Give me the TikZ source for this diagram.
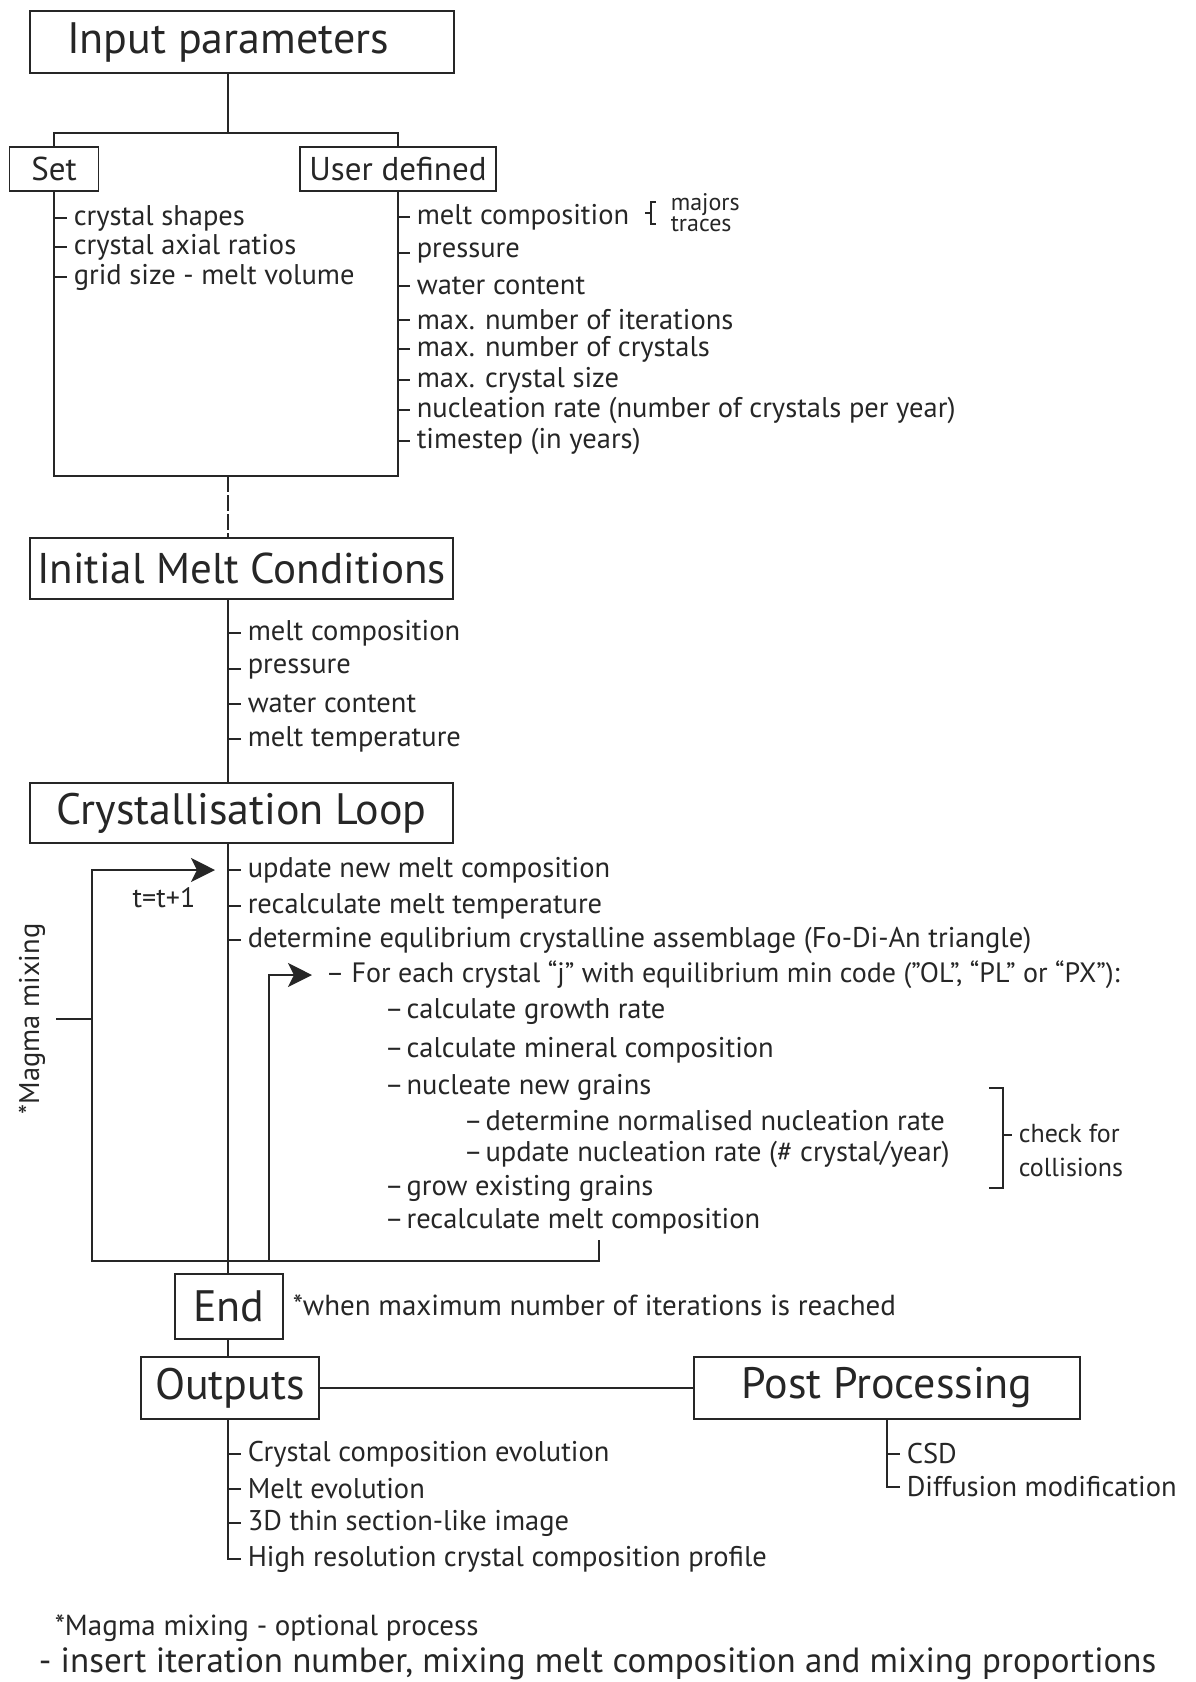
\documentclass[tikz,border=0pt]{standalone}
\usepackage{fontspec}
\setmainfont{PT Sans}
\usetikzlibrary{arrows.meta}

\begin{document}
\begin{tikzpicture}[
    x=1pt, y=-1pt,
    line width=1.6pt,
    draw=black!85, text=black!85,
    every node/.style={font=\fontsize{28.5}{32}\selectfont},
    titlebox/.style={rectangle, draw, line width=1.6pt, inner sep=0pt, font=\fontsize{44}{50}\selectfont},
    smallbox/.style={rectangle, draw, line width=1.6pt, inner sep=0pt, font=\fontsize{33}{38}\selectfont},
    item/.style={anchor=west, inner xsep=6pt, inner ysep=0pt},
    subitem/.style={anchor=west, inner xsep=0pt, inner ysep=0pt},
    dashline/.style={dash pattern=on 16pt off 3pt},
    arrow/.style={-{Stealth[length=24pt, width=24pt, inset=6pt]}}
]
\useasboundingbox (0,0) rectangle (1195,1682);

% Boxes
\node[titlebox, minimum width=424, minimum height=62] (input) at (242,42) {\hspace*{-28pt}Input parameters};
\node[smallbox, minimum width=89, minimum height=44] (set) at (54,169) {Set};
\node[smallbox, minimum width=196, minimum height=44] (user) at (398,169) {User defined};
\node[titlebox, minimum width=423, minimum height=61, font=\fontsize{43}{50}\selectfont] (imc) at (241.5,568.5) {Initial Melt Conditions};
\node[titlebox, minimum width=423, minimum height=60] (loop) at (241.5,813) {Crystallisation Loop};
\node[titlebox, minimum width=108, minimum height=65] (endbox) at (229,1306.5) {End};
\node[titlebox, minimum width=178, minimum height=62] (outputs) at (230,1388) {Outputs};
\node[titlebox, minimum width=386, minimum height=62] (post) at (887,1388) {Post Processing};

% Helper coordinates
\coordinate (spine) at (228,0);
\coordinate (split) at (228,133);
\coordinate (framebot) at (228,476);
\coordinate (outerbot) at (92,1261);
\coordinate (innerbot) at (269,1261);
\coordinate (loopend) at (599,1240);

% Set / user defined parameters
\node[item] (s1) at (67,218) {crystal shapes};
\node[item] (s2) at (67,247) {crystal axial ratios};
\node[item] (s3) at (67,277) {grid size - melt volume};

\node[item] (u1) at (410,217) {melt composition};
\node[item] (u2) at (410,253) {pressure};
\node[item] (u3) at (410,286) {water content};
\node[item] (u4) at (410,320) {max. number of iterations};
\node[item] (u5) at (410,349) {max. number of crystals};
\node[item] (u6) at (410,380) {max. crystal size};
\node[item] (u7) at (410,410) {nucleation rate (number of crystals per year)};
\node[item] (u8) at (410,441) {timestep (in years)};
\node[anchor=west, inner sep=0pt, align=left, font=\fontsize{24}{17}\selectfont] (majors) at (670,213) {majors\\traces};

% Initial melt conditions
\node[item] (m1) at (241,633) {melt composition};
\node[item] (m2) at (241,669) {pressure};
\node[item] (m3) at (241,704) {water content};
\node[item] (m4) at (241,739) {melt temperature};

% Crystallisation loop
\node[item] (c1) at (241,870) {update new melt composition};
\node[item] (c2) at (241,906) {recalculate melt temperature};
\node[item] (c3) at (241,940) {determine equlibrium crystalline assemblage (Fo-Di-An triangle)};
\node[subitem, font=\fontsize{28}{32}\selectfont] (f1) at (325,975) {– For each crystal “j” with equilibrium min code (”OL”, “PL” or “PX”):};
\node[subitem] (f2) at (384,1012) {–\hspace{3pt}calculate growth rate};
\node[subitem] (f3) at (384,1050) {–\hspace{3pt}calculate mineral composition};
\node[subitem] (f4) at (384,1087) {–\hspace{3pt}nucleate new grains};
\node[subitem] (f5) at (463,1121) {–\hspace{3pt}determine normalised nucleation rate};
\node[subitem] (f6) at (463,1154) {–\hspace{3pt}update nucleation rate (\# crystal/year)};
\node[subitem] (f7) at (384,1188) {–\hspace{3pt}grow existing grains};
\node[subitem] (f8) at (384,1221) {–\hspace{3pt}recalculate melt composition};
\node[item, align=left, font=\fontsize{26}{34}\selectfont] (collide) at (1012,1150) {check for\\collisions};
\node[font=\fontsize{28}{32}\selectfont] (tstep) at (164,898) {t=t+1};
\node[rotate=90, inner sep=0pt] (magma) at (32,1019) {*Magma mixing};
\node[anchor=west, inner sep=0pt, font=\fontsize{29}{34}\selectfont] (endnote) at (292,1305) {*when maximum number of iterations is reached};

% Outputs / post processing
\node[item] (o1) at (241,1454) {Crystal composition evolution};
\node[item] (o2) at (241,1489) {Melt evolution};
\node[item] (o3) at (241,1523) {3D thin section-like image};
\node[item] (o4) at (241,1559) {High resolution crystal composition profile};
\node[item] (p1) at (900,1454) {CSD};
\node[item] (p2) at (900,1487) {Diffusion modification};

% Footnote
\node[anchor=west, inner sep=0pt, font=\fontsize{29}{34}\selectfont] (note1) at (54,1628) {*Magma mixing - optional process};
\node[anchor=west, inner sep=0pt, font=\fontsize{35}{40}\selectfont] (note2) at (38,1664) {- insert iteration number, mixing melt composition and mixing proportions};

% Lines
\draw (input.south -| split) -- (split);
\draw (set.north) |- (split) -| (user.north);
\draw (set.south) |- (user.south |- framebot) -- (user.south);
\draw (set.south |- s1.west) -- (s1.west);
\draw (set.south |- s2.west) -- (s2.west);
\draw (set.south |- s3.west) -- (s3.west);
\draw (user.south |- u1.west) -- (u1.west);
\draw (user.south |- u2.west) -- (u2.west);
\draw (user.south |- u3.west) -- (u3.west);
\draw (user.south |- u4.west) -- (u4.west);
\draw (user.south |- u5.west) -- (u5.west);
\draw (user.south |- u6.west) -- (u6.west);
\draw (user.south |- u7.west) -- (u7.west);
\draw (user.south |- u8.west) -- (u8.west);
\draw[line width=1.2pt] (645,213) -- (651,213);
\draw[line width=1.2pt] (656,202) -- (651,202) -- (651,224) -- (656,224);

\draw[dashline] (framebot) -- (imc.north -| spine);
\draw (imc.south -| spine) -- (loop.north -| spine);
\draw (spine |- m1.west) -- (m1.west);
\draw (spine |- m2.west) -- (m2.west);
\draw (spine |- m3.west) -- (m3.west);
\draw (spine |- m4.west) -- (m4.west);

\draw (loop.south -| spine) -- (endbox.north -| spine);
\draw (spine |- c1.west) -- (c1.west);
\draw (spine |- c2.west) -- (c2.west);
\draw (spine |- c3.west) -- (c3.west);
\draw[arrow, shorten >=13pt] (loopend) |- (outerbot) |- (spine |- c1.west);
\draw[arrow, shorten >=13pt] (innerbot) |- (f1.west);
\draw ([xshift=10pt]magma.south) -- (outerbot |- magma);
\draw (989,1088) -- (1003,1088) -- (1003,1188) -- (989,1188);
\draw (1003 ,1135) -- (1012,1135);

\draw (endbox.south -| spine) -- (outputs.north -| spine);
\draw (outputs) -- (post);
\draw (outputs.south -| spine) |- (o4.west);
\draw (spine |- o1.west) -- (o1.west);
\draw (spine |- o2.west) -- (o2.west);
\draw (spine |- o3.west) -- (o3.west);
\draw (post.south) |- (p2.west);
\draw (post.south |- p1.west) -- (p1.west);

\end{tikzpicture}
\end{document}
